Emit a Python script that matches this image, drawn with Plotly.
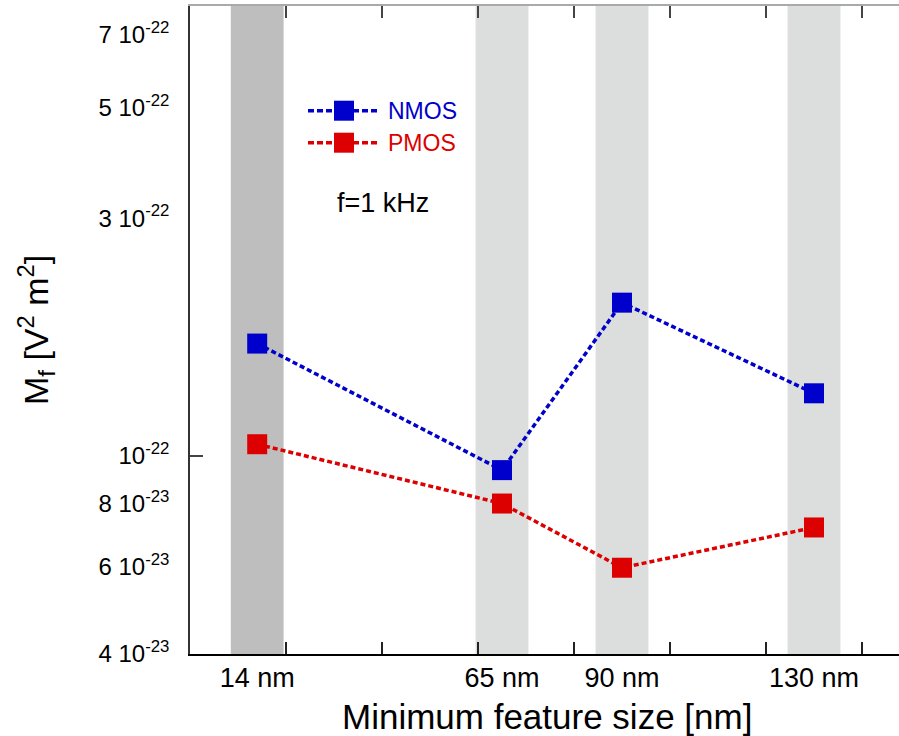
import plotly.graph_objects as go
import math

# ---- data ----
feature_nm = [14, 65, 90, 130]
feature_labels = ["14 nm", "65 nm", "90 nm", "130 nm"]
nmos = [1.68e-22, 9.36e-23, 2.03e-22, 1.335e-22]
pmos = [1.055e-22, 8.02e-23, 5.96e-23, 7.18e-23]
band_colors = ["#bebebe", "#dcdddd", "#dcdddd", "#dcdddd"]
y_tick_vals = [4e-23, 6e-23, 8e-23, 1e-22, 3e-22, 5e-22, 7e-22]
y_tick_text = ["4 10<sup>-23</sup>", "6 10<sup>-23</sup>", "8 10<sup>-23</sup>",
               "10<sup>-22</sup>", "3 10<sup>-22</sup>", "5 10<sup>-22</sup>",
               "7 10<sup>-22</sup>"]
x_minor_ticks = [20, 40, 60, 80, 100, 120, 140]

BLUE = "#0000cc"
RED = "#dd0000"
FONT = "Liberation Sans, Arial, Helvetica, sans-serif"

W, H = 899, 736
ML, MR, MT, MB = 190, 0, 6, 82
PW, PH = W - ML - MR, H - MT - MB
XMAX = PW / 4.8
YR = [math.log10(4e-23), math.log10(8e-22)]

def px(x):
    return (x - ML) / PW

def py(y):
    return (H - MB - y) / PH

fig = go.Figure()

line_dash = "5px,3px"
fig.add_trace(go.Scatter(x=feature_nm, y=nmos, mode="lines+markers", name="NMOS",
                         line=dict(color=BLUE, width=3.5, dash=line_dash),
                         marker=dict(symbol="square", size=20, color=BLUE,
                                     line=dict(width=0)),
                         showlegend=False))
fig.add_trace(go.Scatter(x=feature_nm, y=pmos, mode="lines+markers", name="PMOS",
                         line=dict(color=RED, width=3.5, dash=line_dash),
                         marker=dict(symbol="square", size=20, color=RED,
                                     line=dict(width=0)),
                         showlegend=False))
# dummy trace for top axis
fig.add_trace(go.Scatter(x=[None], y=[None], xaxis="x2", showlegend=False,
                         hoverinfo="skip"))

shapes = []
for xv, c in zip(feature_nm, band_colors):
    shapes.append(dict(type="rect", xref="x", yref="paper", x0=xv - 5.5, x1=xv + 5.5,
                       y0=0, y1=1, fillcolor=c, line=dict(width=0), layer="below"))

# manual legend
annotations = []
for name, color, ycen in [("NMOS", BLUE, 110.7), ("PMOS", RED, 142.7)]:
    shapes.append(dict(type="line", xref="paper", yref="paper",
                       x0=px(308), x1=px(379), y0=py(ycen), y1=py(ycen),
                       line=dict(color=color, width=3.5, dash="6px,3px")))
    shapes.append(dict(type="rect", xref="paper", yref="paper",
                       x0=px(334), x1=px(354), y0=py(ycen + 10), y1=py(ycen - 10),
                       fillcolor=color, line=dict(width=0)))
    annotations.append(dict(xref="paper", yref="paper", x=px(386), y=py(ycen),
                            xanchor="left", yanchor="middle", showarrow=False,
                            text=name, font=dict(family=FONT, size=23, color=color)))

annotations.append(dict(xref="paper", yref="paper", x=px(383), y=py(203),
                        xanchor="center", yanchor="middle", showarrow=False,
                        text="f=1 kHz", font=dict(family=FONT, size=27, color="black")))
# axis titles
annotations.append(dict(xref="paper", yref="paper", x=px(547), y=py(716),
                        xanchor="center", yanchor="middle", showarrow=False,
                        text="Minimum feature size [nm]",
                        font=dict(family=FONT, size=35, color="black")))
annotations.append(dict(xref="paper", yref="paper", x=px(36), y=0.5,
                        xanchor="center", yanchor="middle", showarrow=False,
                        textangle=-90,
                        text="M<sub>f</sub> [V<sup>2</sup> m<sup>2</sup>]",
                        font=dict(family=FONT, size=34, color="black")))

fig.update_layout(
    width=W, height=H,
    margin=dict(l=ML, r=MR, t=MT, b=MB, pad=0),
    paper_bgcolor="white", plot_bgcolor="white",
    font=dict(family=FONT, color="black"),
    shapes=shapes, annotations=annotations,
    xaxis=dict(range=[0, XMAX], showgrid=False, zeroline=False,
               showline=True, linecolor="black", linewidth=1.5,
               tickvals=feature_nm, ticktext=feature_labels, ticks="",
               ticklabelstandoff=-1,
               tickfont=dict(family=FONT, size=27, color="black"),
               minor=dict(tickvals=x_minor_ticks, ticks="inside", ticklen=12,
                          tickwidth=1.5, tickcolor="#222", showgrid=False)),
    xaxis2=dict(range=[0, XMAX], overlaying="x", side="top", anchor="y",
                showgrid=False, zeroline=False, showline=True,
                linecolor="#aaaaaa", linewidth=1.5,
                tickvals=x_minor_ticks, ticks="inside", ticklen=12, tickwidth=1.5,
                tickcolor="#444", showticklabels=False),
    yaxis=dict(type="log", range=YR, showgrid=False, zeroline=False,
               showline=True, linecolor="#333", linewidth=1.5,
               tickvals=y_tick_vals, ticktext=y_tick_text, ticks="",
               ticklabelstandoff=14,
               tickfont=dict(family=FONT, size=24, color="black"),
               minor=dict(tickvals=[1e-22], ticks="inside", ticklen=13,
                          tickwidth=1.5, tickcolor="#444", showgrid=False)),
)

fig.write_html("out.html", config={"displayModeBar": False},
               post_script="document.body.style.margin='0';document.body.style.overflow='hidden';")
